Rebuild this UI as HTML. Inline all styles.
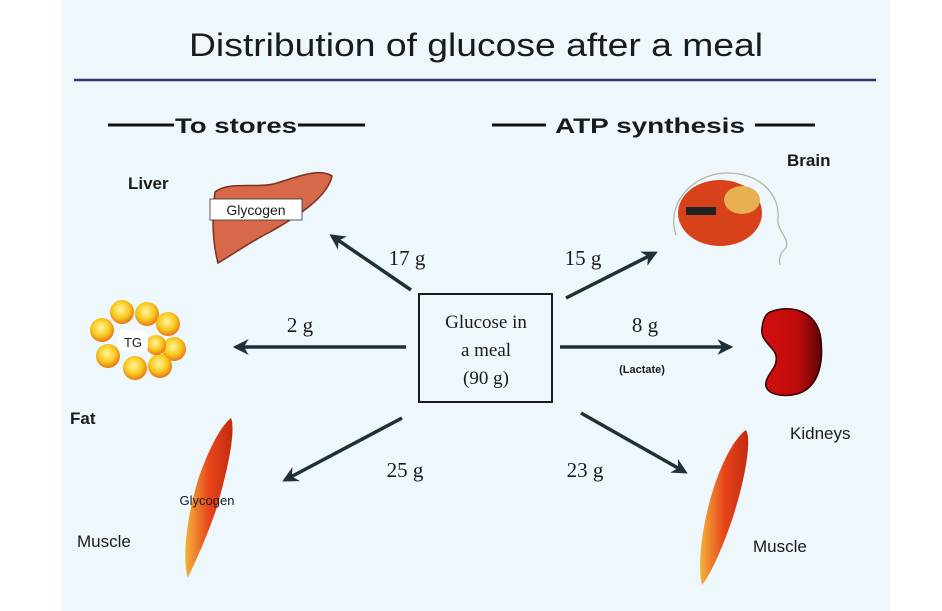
<!DOCTYPE html>
<html><head><meta charset="utf-8"><style>
html,body{margin:0;padding:0;background:#fff;}
svg{display:block;}
text{font-family:"Liberation Sans",sans-serif;fill:#1a1a1a;}
.s{font-family:"Liberation Serif",serif;}
</style></head><body>
<svg width="942" height="611" viewBox="0 0 942 611" xmlns="http://www.w3.org/2000/svg">
<defs>
<marker id="ah" viewBox="0 0 10 10" refX="8" refY="5" markerWidth="4.5" markerHeight="4.5" orient="auto"><path d="M0,0 L10,5 L0,10 L3,5 z" fill="#1e3038"/></marker>
<radialGradient id="ball" cx="45%" cy="40%" r="60%"><stop offset="0" stop-color="#fff6a0"/><stop offset="0.6" stop-color="#f9c81a"/><stop offset="1" stop-color="#e8741a"/></radialGradient>
<linearGradient id="musc" x1="0" y1="0" x2="1" y2="0"><stop offset="0" stop-color="#f2b23a"/><stop offset="0.5" stop-color="#e8461a"/><stop offset="1" stop-color="#c42a10"/></linearGradient>
<linearGradient id="kid" x1="0" y1="0" x2="1" y2="0"><stop offset="0" stop-color="#d21010"/><stop offset="0.6" stop-color="#c00a0a"/><stop offset="1" stop-color="#5a0505"/></linearGradient>
</defs>
<rect x="0" y="0" width="942" height="611" fill="#ffffff"/>
<rect x="62" y="0" width="828" height="611" fill="#eef7fb"/>
<text x="476" y="56" font-size="32" text-anchor="middle" fill="#111" textLength="574" lengthAdjust="spacingAndGlyphs">Distribution of glucose after a meal</text>
<line x1="74" y1="80" x2="876" y2="80" stroke="#2c3570" stroke-width="2.5"/>
<line x1="108" y1="125" x2="174" y2="125" stroke="#111" stroke-width="3"/>
<text x="236" y="133" font-size="21" font-weight="bold" text-anchor="middle" textLength="122" lengthAdjust="spacingAndGlyphs">To stores</text>
<line x1="298" y1="125" x2="365" y2="125" stroke="#111" stroke-width="3"/>
<line x1="492" y1="125" x2="546" y2="125" stroke="#111" stroke-width="3"/>
<text x="650" y="133" font-size="21" font-weight="bold" text-anchor="middle" textLength="190" lengthAdjust="spacingAndGlyphs">ATP synthesis</text>
<line x1="755" y1="125" x2="815" y2="125" stroke="#111" stroke-width="3"/>
<text x="128" y="189" font-size="17" font-weight="bold">Liver</text>
<text x="787" y="166" font-size="17" font-weight="bold">Brain</text>
<text x="70" y="424" font-size="17" font-weight="bold">Fat</text>
<text x="790" y="439" font-size="17">Kidneys</text>
<text x="77" y="547" font-size="17">Muscle</text>
<text x="753" y="552" font-size="17">Muscle</text>
<path d="M215,192 C230,180 260,190 280,182 C300,176 320,168 332,176 C328,196 300,215 270,232 C250,242 232,255 218,263 C212,240 212,215 215,192 Z" fill="#d7694a" stroke="#7a3020" stroke-width="1.5"/>
<rect x="210" y="199" width="92" height="21" fill="#fff" stroke="#333" stroke-width="0.8"/>
<text x="256" y="215" font-size="14" text-anchor="middle">Glycogen</text>
<g>
<circle cx="122" cy="312" r="12" fill="url(#ball)"/><circle cx="147" cy="314" r="12" fill="url(#ball)"/><circle cx="168" cy="324" r="12" fill="url(#ball)"/>
<circle cx="174" cy="349" r="12" fill="url(#ball)"/><circle cx="160" cy="366" r="12" fill="url(#ball)"/><circle cx="135" cy="368" r="12" fill="url(#ball)"/>
<circle cx="108" cy="356" r="12" fill="url(#ball)"/><circle cx="102" cy="330" r="12" fill="url(#ball)"/><circle cx="156" cy="345" r="10" fill="url(#ball)"/>
<rect x="118" y="330" width="30" height="22" rx="5" fill="#fff"/>
<text x="133" y="347" font-size="13" text-anchor="middle">TG</text>
</g>
<path d="M231,418 C236,430 228,470 216,510 C204,545 192,568 188,578 C182,560 186,520 198,480 C210,445 222,425 231,418 Z" fill="url(#musc)"/>
<text x="207" y="505" font-size="13" text-anchor="middle">Glycogen</text>
<path d="M676,235 C666,205 690,175 725,173 C760,172 780,195 778,218 C776,230 790,238 786,248 C782,252 778,256 780,265" fill="none" stroke="#b8b0a0" stroke-width="1.2"/>
<ellipse cx="720" cy="213" rx="42" ry="33" fill="#d8421a"/>
<ellipse cx="742" cy="200" rx="18" ry="14" fill="#e8b050"/>
<rect x="686" y="207" width="30" height="8" fill="#222"/>
<path d="M770,312 C790,304 818,310 821,340 C824,370 815,392 792,395 C776,397 764,392 766,382 C768,372 778,368 776,356 C774,346 760,342 762,328 C763,318 766,314 770,312 Z" fill="url(#kid)" stroke="#300" stroke-width="1.5"/>
<path d="M746,430 C752,440 745,480 732,520 C720,555 708,578 702,585 C697,565 702,525 713,490 C724,455 738,435 746,430 Z" fill="url(#musc)"/>
<rect x="419" y="294" width="133" height="108" fill="none" stroke="#1a1a1a" stroke-width="2"/>
<text x="486" y="328" font-size="19" text-anchor="middle" class="s">Glucose in</text>
<text x="486" y="356" font-size="19" text-anchor="middle" class="s">a meal</text>
<text x="486" y="384" font-size="19" text-anchor="middle" class="s">(90 g)</text>
<g stroke="#1e3038" stroke-width="3.5" fill="none" marker-end="url(#ah)">
<line x1="411" y1="290" x2="332" y2="236"/>
<line x1="566" y1="298" x2="655" y2="253"/>
<line x1="406" y1="347" x2="236" y2="347"/>
<line x1="560" y1="347" x2="730" y2="347"/>
<line x1="402" y1="418" x2="285" y2="480"/>
<line x1="581" y1="413" x2="685" y2="472"/>
</g>
<text x="407" y="265" font-size="21" text-anchor="middle" class="s">17 g</text>
<text x="583" y="265" font-size="21" text-anchor="middle" class="s">15 g</text>
<text x="300" y="332" font-size="21" text-anchor="middle" class="s">2 g</text>
<text x="645" y="332" font-size="21" text-anchor="middle" class="s">8 g</text>
<text x="642" y="373" font-size="11" font-weight="bold" text-anchor="middle">(Lactate)</text>
<text x="405" y="477" font-size="21" text-anchor="middle" class="s">25 g</text>
<text x="585" y="477" font-size="21" text-anchor="middle" class="s">23 g</text>
</svg>
</body></html>
